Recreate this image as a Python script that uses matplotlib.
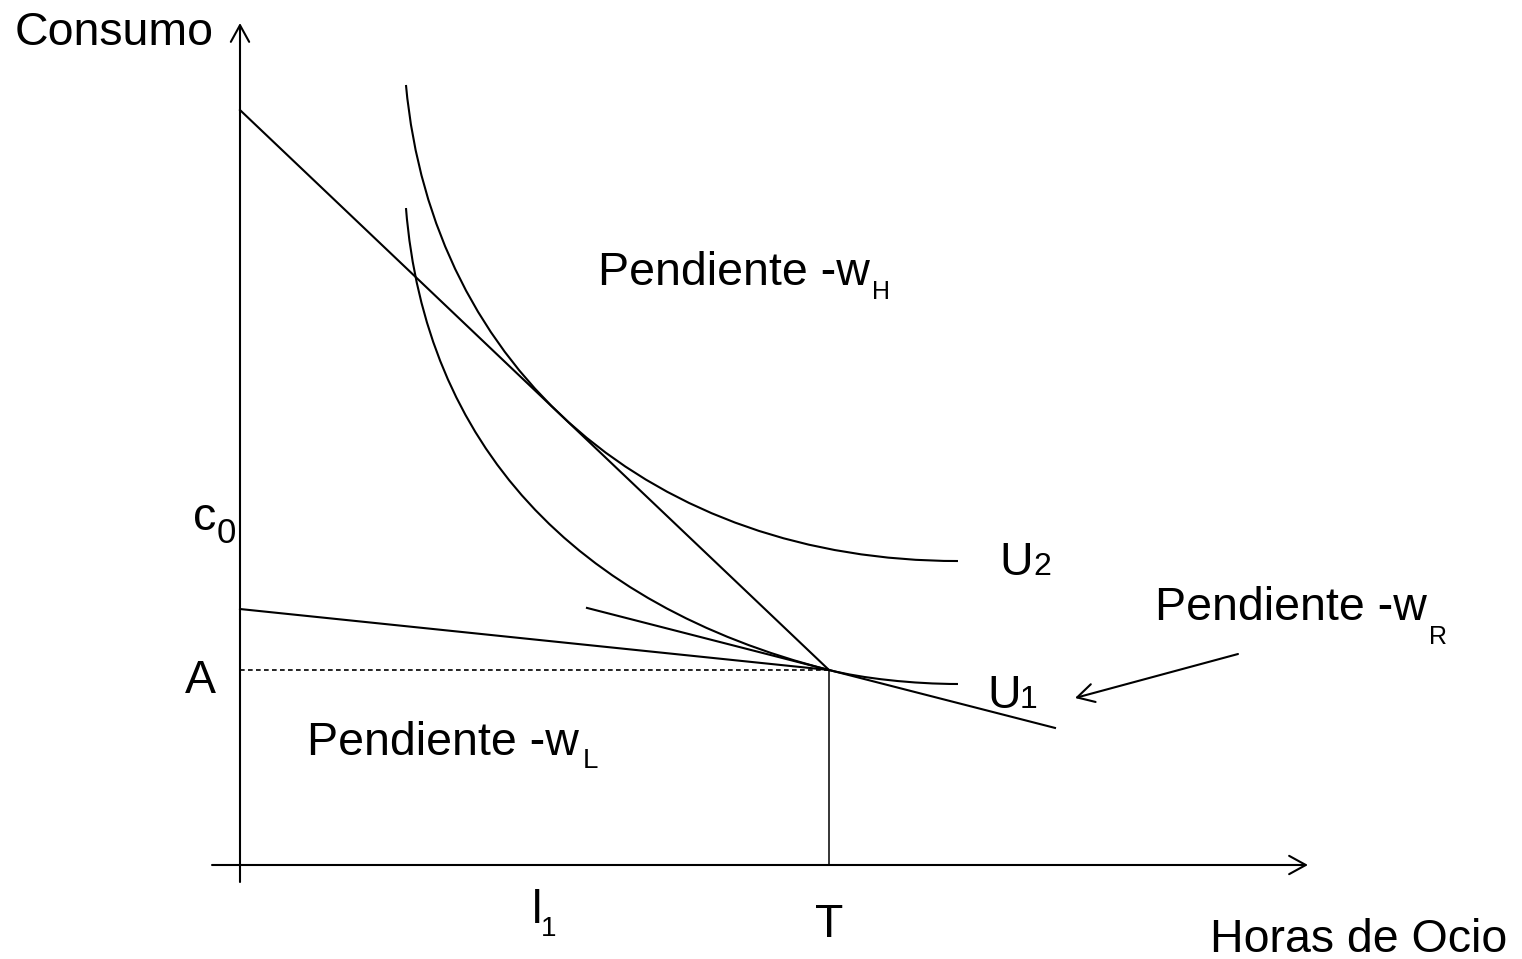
import matplotlib
matplotlib.use('Agg')
import matplotlib.pyplot as plt
from matplotlib.path import Path
from matplotlib.patches import PathPatch

plt.rcParams['font.family'] = ['Liberation Sans', 'DejaVu Sans']

# eje x: horas de ocio, eje y: consumo
T = 10.0          # dotacion de tiempo
A = 3.311         # consumo en el punto de dotacion
w_H = 0.9507      # pendiente -w_H
w_L = 0.1035      # pendiente -w_L
w_R = 0.2564      # pendiente -w_R (tangente a U1 en T)
wR_x = [5.891, 13.837]

# curvas de indiferencia (puntos de control Bezier)
U1_x = [2.818, 3.137, 5.650, 10.0, 10.559, 11.435, 12.190]
U1_y = [11.154, 7.165, 4.419, 3.311, 3.168, 3.073, 3.073]
U2_x = [2.818, 3.267, 7.015, 12.190]
U2_y = [13.243, 8.394, 5.161, 5.161]

# extremos de los ejes
x_axis = [-0.475, 18.132]
y_axis = [-0.289, 14.295]

# flecha que senala la recta -w_R
note_from = (16.944, 3.582)
note_to = (14.177, 2.835)

lw = 1.5
fs = 33.5
head = '->,head_length=0.6,head_width=0.33'

fig = plt.figure(figsize=(15.22, 9.59), dpi=100)
ax = fig.add_axes([0, 0, 1, 1])
ax.set_xlim(-4.0747, 21.766)
ax.set_ylim(-1.596, 14.686)
ax.axis('off')

# ejes con flecha
ax.annotate('', xy=(x_axis[1], 0), xytext=(x_axis[0], 0),
            arrowprops=dict(arrowstyle=head, lw=lw, color='black',
                            shrinkA=0, shrinkB=0, mutation_scale=20))
ax.annotate('', xy=(0, y_axis[1]), xytext=(0, y_axis[0]),
            arrowprops=dict(arrowstyle=head, lw=lw, color='black',
                            shrinkA=0, shrinkB=0, mutation_scale=20))

# restricciones presupuestarias
ax.plot([0, T], [A + w_H * T, A], color='black', lw=lw)
ax.plot([0, T], [A + w_L * T, A], color='black', lw=lw)
ax.plot(wR_x, [A - w_R * (x - T) for x in wR_x], color='black', lw=lw)

# lineas de referencia
ax.plot([0, T], [A, A], color='black', lw=1.2, linestyle=(0, (2.8, 2)))
ax.plot([T, T], [0, A], color='black', lw=1.1)

# curvas de indiferencia
codes1 = [Path.MOVETO] + [Path.CURVE4] * 6
ax.add_patch(PathPatch(Path(list(zip(U1_x, U1_y)), codes1),
                       fill=False, lw=lw, edgecolor='black'))
codes2 = [Path.MOVETO] + [Path.CURVE4] * 3
ax.add_patch(PathPatch(Path(list(zip(U2_x, U2_y)), codes2),
                       fill=False, lw=lw, edgecolor='black'))

ax.annotate('', xy=note_to, xytext=note_from,
            arrowprops=dict(arrowstyle=head, lw=lw, color='black',
                            shrinkA=0, shrinkB=0, mutation_scale=20))

# textos
def label(x, y, s, size=fs, ha='left'):
    ax.text(x, y, s, fontsize=size, ha=ha, va='baseline', color='black')

label(-3.820, 13.922, 'Consumo')
label(16.469, -1.477, 'Horas de Ocio')
label(-0.798, 5.688, 'c')
label(-0.390, 5.467, '0', size=25)
label(-0.934, 2.920, 'A')
label(4.958, -0.985, 'l')
label(5.110, -1.205, '1', size=20)
label(T, -1.222, 'T', ha='center')

label(6.078, 9.847, 'Pendiente -w')
label(10.730, 9.610, 'H', size=18)
label(1.138, 1.868, 'Pendiente -w')
label(5.823, 1.647, 'L', size=20)
label(15.535, 4.160, 'Pendiente -w')
label(20.187, 3.752, 'R', size=18)

label(12.886, 4.924, 'U')
label(13.464, 4.924, '2', size=23)
label(12.683, 2.666, 'U')
label(13.243, 2.666, '1', size=23)

fig.savefig('out.png', dpi=100)
